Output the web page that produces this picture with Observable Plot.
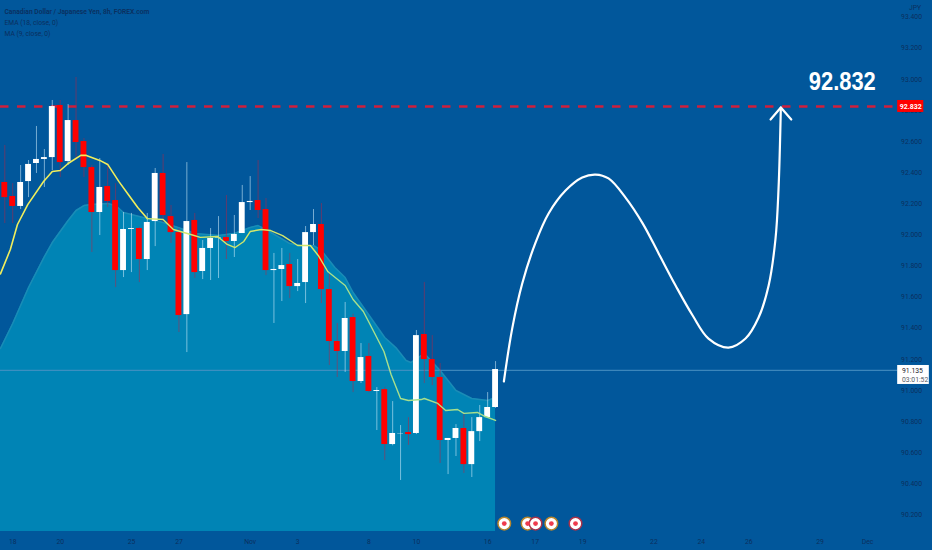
<!DOCTYPE html>
<html><head><meta charset="utf-8">
<style>html,body{margin:0;padding:0;background:#01579b}svg{display:block}</style>
<script src="https://cdn.jsdelivr.net/npm/d3@7"></script>
<script src="https://cdn.jsdelivr.net/npm/@observablehq/plot@0.6"></script>
</head><body><div id="chart"></div>
<script>
const opens=[92.337,92.247,92.183,92.343,92.459,92.485,92.497,92.832,92.472,92.735,92.600,92.433,92.144,92.311,92.221,91.771,92.035,92.041,91.842,92.086,92.395,92.118,92.015,91.488,92.093,91.765,91.913,91.977,91.983,91.958,92.009,92.208,92.221,92.163,91.771,91.778,91.810,91.668,91.694,92.015,92.067,91.649,91.315,91.251,91.469,91.058,91.219,90.994,91.006,90.653,90.720,90.730,90.724,91.360,91.199,91.084,90.679,90.692,90.756,90.524,90.736,90.826,90.891];
const highs=[92.575,92.330,92.446,92.478,92.697,92.549,92.864,92.864,92.838,93.012,92.620,92.446,92.491,92.459,92.330,92.144,92.138,92.050,92.138,92.427,92.517,92.189,92.041,92.465,92.138,91.964,92.041,92.118,92.253,92.125,92.318,92.375,92.478,92.234,91.881,91.913,91.881,91.842,92.054,92.163,92.202,91.752,91.431,91.566,91.490,91.302,91.302,91.019,91.020,90.929,90.775,90.826,91.386,91.694,91.353,91.174,90.692,90.781,90.852,90.826,90.904,90.987,91.186];
const lows=[92.073,92.073,92.163,92.240,92.395,92.305,92.414,92.369,92.446,92.478,92.369,91.887,91.996,92.176,91.662,91.726,91.758,91.694,91.771,91.925,92.080,91.945,91.373,91.244,91.720,91.713,91.707,91.720,91.842,91.855,92.009,92.157,92.105,91.739,91.431,91.572,91.591,91.636,91.559,91.932,91.559,91.161,91.084,91.116,90.987,91.045,90.985,90.743,90.550,90.645,90.422,90.647,90.717,91.045,91.032,90.531,90.460,90.576,90.467,90.441,90.672,90.820,90.885];
const closes=[92.240,92.183,92.337,92.453,92.485,92.497,92.825,92.465,92.735,92.594,92.433,92.144,92.305,92.215,91.771,92.035,92.041,91.842,92.080,92.395,92.125,92.015,91.482,92.086,91.758,91.913,91.977,91.980,91.958,92.003,92.208,92.215,92.157,91.771,91.778,91.803,91.668,91.688,92.015,92.067,91.649,91.315,91.251,91.463,91.058,91.212,90.994,91.000,90.653,90.724,90.722,90.717,91.353,91.199,91.084,90.679,90.692,90.756,90.524,90.736,90.826,90.891,91.135];

const maIdx=[-0.55,1,3,5,6,8,9,10,11,13,14,15,18,20,23,24,27,29,31,32,33,36,38,39,40,41.7,43,44,45.6,48,49.4,50.7,51.3,53,55,57,59,61,62];
const maVal=[91.270,91.431,91.662,91.860,91.951,92.093,92.157,92.189,92.195,92.202,92.189,92.144,92.105,92.080,92.028,92.009,91.996,92.009,92.048,92.060,92.035,91.945,91.925,91.932,91.900,91.791,91.726,91.630,91.514,91.341,91.276,91.193,91.180,91.238,91.129,91.000,90.949,90.936,90.955];
const areaBase=90.094;

const emaIdx=[-0.55,0.7,1.6,2.9,4.9,6,7,8,9.6,10.3,12,13,14.4,15.6,16.8,18,20,21.3,23.5,24.7,26.9,28.1,29.1,30.2,31,32.4,33.6,35.1,37,38.6,39.6,40.8,43,44,45.3,46.8,47.9,48.8,50,51,52.6,53,54.7,55.7,57.2,58,59.7,60.7,62];
const emaVal=[91.750,91.906,92.067,92.195,92.343,92.408,92.414,92.459,92.511,92.511,92.479,92.453,92.344,92.260,92.176,92.105,92.099,92.035,92.003,91.984,91.990,91.939,91.919,91.958,92.022,92.035,92.028,91.996,91.932,91.932,91.868,91.765,91.675,91.585,91.508,91.360,91.251,91.103,90.949,90.936,90.942,90.949,90.917,90.872,90.878,90.853,90.859,90.833,90.808];

const pathIdx=[63.05,64.1,65.37,67.05,68.7,70.84,72.95,74.63,76.27,78.42,80.6,82.6,84.74,86.9,88.9,91.43,93.58,95.23,96.5,97.37,97.75,98.04];
const pathVal=[91.058,91.398,91.688,91.951,92.138,92.285,92.369,92.388,92.363,92.240,92.073,91.881,91.675,91.482,91.334,91.276,91.334,91.469,91.675,91.977,92.298,92.819];
const headIdx=[96.74,98.04,99.36];
const headVal=[92.742,92.819,92.742];

const target=92.832, targetLine=92.825, lastPrice=91.135, lastLine=91.13, countdown="03:01:52";
const priceTicks=[93.4,93.2,93.0,92.8,92.6,92.4,92.2,92.0,91.8,91.6,91.4,91.2,91.0,90.8,90.6,90.4,90.2];
const timeIdx=[1,7,16,22,31,37,46,52,61,67,73,82,88,94,103,109];
const timeLabels=["18","20","25","27","Nov","3","8","10","16","17","19","22","24","26","29","Dec"];
const eventIdx=[63.1,66.05,67.05,69.05,72.1];
const eventRing=["#b8862c","#b8862c","#a8324a","#b8862c","#a8324a"];
const legendLines=["Canadian Dollar / Japanese Yen, 8h, FOREX.com","EMA (18, close, 0)","MA (9, close, 0)"];

const candles=opens.map((o,i)=>({i,o,h:highs[i],l:lows[i],c:closes[i],up:closes[i]>=o}));
const ma=maIdx.map((i,k)=>({i,v:maVal[k]}));
const ema=emaIdx.map((i,k)=>({i,v:emaVal[k]}));
const path=pathIdx.map((i,k)=>({i,v:pathVal[k]}));
const head=headIdx.map((i,k)=>({i,v:headVal[k]}));
const ev=eventIdx.map((i,k)=>({i,ring:eventRing[k],v:90.145}));
const bg="#01579b", ink="#0b2f5e", font="Roboto, 'Liberation Sans', sans-serif";
const up=candles.filter(d=>d.up), down=candles.filter(d=>!d.up);

const plot=Plot.plot({
  width:932,height:550,margin:0,
  style:{background:bg,fontFamily:font},
  x:{type:"linear",domain:[-0.543,117.2],axis:null},
  y:{type:"linear",domain:[89.972,93.5065],axis:null},
  marks:[
    Plot.areaY(ma,{x:"i",y1:()=>areaBase,y2:"v",fill:"#0084b5"}),
    Plot.lineY(ma,{x:"i",y:"v",stroke:"#1a8cb6",strokeWidth:1.5}),
    Plot.ruleY([lastLine],{x1:-0.543,x2:112.8,stroke:"#4b93c4",strokeWidth:1}),
    Plot.ruleY([targetLine],{x1:-0.543,x2:112.8,stroke:"#d01f3c",strokeWidth:2.4,strokeDasharray:"8.5 8.5"}),
    Plot.ruleX(down,{x:"i",y1:"l",y2:"h",stroke:"#c0203f",strokeOpacity:.5,strokeWidth:1}),
    Plot.ruleX(up,{x:"i",y1:"l",y2:"h",stroke:"#d8f2ff",strokeOpacity:.55,strokeWidth:1}),
    Plot.rect(down,{x1:d=>d.i-0.37,x2:d=>d.i+0.37,y1:"o",y2:"c",fill:"#ff0000"}),
    Plot.rect(up,{x1:d=>d.i-0.37,x2:d=>d.i+0.37,y1:"o",y2:"c",fill:"#ffffff"}),
    Plot.line(ema.filter(d=>d.i<=18),{x:"i",y:"v",stroke:"#f0ee5c",strokeWidth:1.6}),
    Plot.line(ema.filter(d=>d.i>=18&&d.i<=40.8),{x:"i",y:"v",stroke:"#d2e86c",strokeWidth:1.4}),
    Plot.line(ema.filter(d=>d.i>=40.8),{x:"i",y:"v",stroke:"#a8e08c",strokeWidth:1.4}),
    Plot.line(path,{x:"i",y:"v",curve:"catmull-rom",stroke:"#fff",strokeWidth:2.2}),
    Plot.line(head,{x:"i",y:"v",stroke:"#fff",strokeWidth:2.2}),
    Plot.text([target],{x:()=>105.8,y:()=>92.985,text:d=>d.toFixed(3),fill:"#fff",fontSize:26,fontWeight:700,className:"big-label",fontFamily:"'Liberation Sans',sans-serif"}),
    Plot.text(priceTicks,{x:()=>114.55,y:d=>d,text:d=>d.toFixed(3),fill:ink,fontSize:6.8}),
    Plot.text(["JPY"],{x:()=>115,y:()=>93.46,text:d=>d,fill:ink,fontSize:6.8}),
    Plot.rect([target],{x1:()=>112.8,x2:()=>116.1,y1:()=>92.787,y2:()=>92.864,fill:"#ff0000"}),
    Plot.text([target],{x:()=>114.45,y:()=>92.824,text:d=>d.toFixed(3),fill:"#fff",fontSize:7,fontWeight:700}),
    Plot.rect([lastPrice],{x1:()=>112.8,x2:()=>116.8,y1:()=>91.039,y2:()=>91.161,fill:"#fff"}),
    Plot.text([lastPrice],{x:()=>113.35,y:()=>91.128,text:d=>d.toFixed(3),textAnchor:"start",fill:"#1b1b2b",fontSize:6.8}),
    Plot.text([countdown],{x:()=>113.35,y:()=>91.07,text:d=>d,textAnchor:"start",fill:"#555b66",fontSize:6.8}),
    Plot.text(timeLabels,{x:(d,k)=>timeIdx[k],frameAnchor:"bottom",dy:-7,text:d=>d,fill:ink,fontSize:6.8}),
    Plot.dot(ev,{x:"i",y:"v",r:6.3,fill:"#fff",stroke:"ring",strokeWidth:1.5}),
    Plot.dot(ev,{x:"i",y:"v",r:2.4,fill:"#ee3b4c"}),
    Plot.text([legendLines[0]],{frameAnchor:"top-left",dx:4,dy:9,text:d=>d,fill:ink,fontSize:6.7,fontWeight:600}),
    Plot.text([legendLines[1]],{frameAnchor:"top-left",dx:4,dy:20,text:d=>d,fill:ink,fontSize:6.7}),
    Plot.text([legendLines[2]],{frameAnchor:"top-left",dx:4,dy:31,text:d=>d,fill:ink,fontSize:6.7})
  ]
});
d3.select(plot).select(".big-label text").attr("textLength",67).attr("lengthAdjust","spacingAndGlyphs");
document.getElementById("chart").append(plot);
</script></body></html>
